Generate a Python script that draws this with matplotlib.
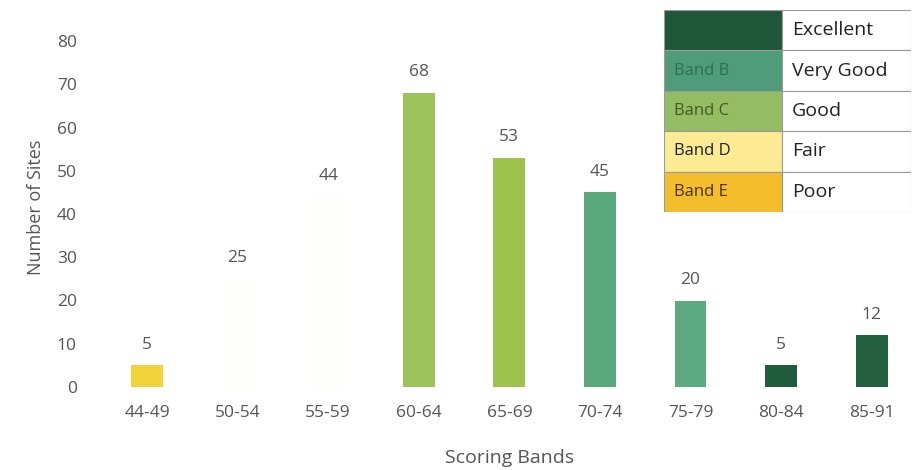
import matplotlib
matplotlib.use("Agg")
import matplotlib.pyplot as plt
from matplotlib.patches import Rectangle

plt.rcParams['font.family'] = ['Open Sans', 'DejaVu Sans']

categories = ["44-49", "50-54", "55-59", "60-64", "65-69", "70-74", "75-79", "80-84", "85-91"]
values = [5, 25, 44, 68, 53, 45, 20, 5, 12]
bar_colors = ["#f2d43a", "#fefefb", "#fefefb", "#9cc35a", "#9dc24e", "#5ba87c", "#5daa80", "#1f5d3c", "#235f3e"]

legend_bands = ["Band A", "Band B", "Band C", "Band D", "Band E"]
legend_labels = ["Excellent", "Very Good", "Good", "Fair", "Poor"]
legend_colors = ["#1e563a", "#4f9c7a", "#94bc62", "#fdeb94", "#f4bd2c"]
legend_text_colors = ["#1e563a", "#2e6e55", "#405c22", "#222222", "#4a3300"]

W, H = 917, 470
fig = plt.figure(figsize=(W / 100, H / 100), dpi=100)
ax = fig.add_axes([101.7 / W, 1 - 387 / H, (917 - 101.7) / W, (387 - 41) / H])

x = list(range(len(categories)))
ax.bar(x, values, width=0.35, color=bar_colors)
for xi, v in zip(x, values):
    ax.annotate(str(v), (xi, v), xytext=(0, 9), textcoords="offset points",
                ha="center", va="bottom", fontsize=12.5, color="#555555")

ax.set_xlim(-0.5, len(categories) - 0.5)
ax.set_ylim(0, 80)
ax.set_yticks(range(0, 81, 10))
ax.set_xticks(x)
ax.set_xticklabels(categories)
ax.tick_params(length=0, labelsize=12.5, labelcolor="#555555")
ax.tick_params(axis="x", pad=13)
ax.tick_params(axis="y", pad=18)
for s in ax.spines.values():
    s.set_visible(False)
ax.set_ylabel("Number of Sites", fontsize=13, color="#555555")
ax.yaxis.set_label_coords(-0.07, 0.52)
ax.set_xlabel("Scoring Bands", fontsize=14, color="#555555")
ax.xaxis.set_label_coords(0.5, -0.18)

# legend table
lx0, lx1, lx2 = 664, 782, 911
ly0, ly1 = 10, 212
lax = fig.add_axes([lx0 / W, 1 - ly1 / H, (lx2 - lx0) / W, (ly1 - ly0) / H])
lax.set_xlim(lx0, lx2)
lax.set_ylim(ly1, ly0)
lax.axis("off")
n = len(legend_bands)
rh = (ly1 - ly0) / n
for i in range(n):
    y = ly0 + i * rh
    lax.add_patch(Rectangle((lx0, y), lx1 - lx0, rh, facecolor=legend_colors[i],
                            edgecolor="#9a9a9a", lw=0.8))
    lax.add_patch(Rectangle((lx1, y), lx2 - lx1, rh, facecolor="white",
                            edgecolor="#9a9a9a", lw=0.8))
    lax.text(lx0 + 10, y + rh / 2, legend_bands[i], fontsize=12, color=legend_text_colors[i],
             va="center", ha="left", fontweight="medium")
    lax.text(lx1 + 10, y + rh / 2, legend_labels[i], fontsize=14, color="#222222",
             va="center", ha="left", fontweight="medium")

fig.savefig("out.png", dpi=100)
